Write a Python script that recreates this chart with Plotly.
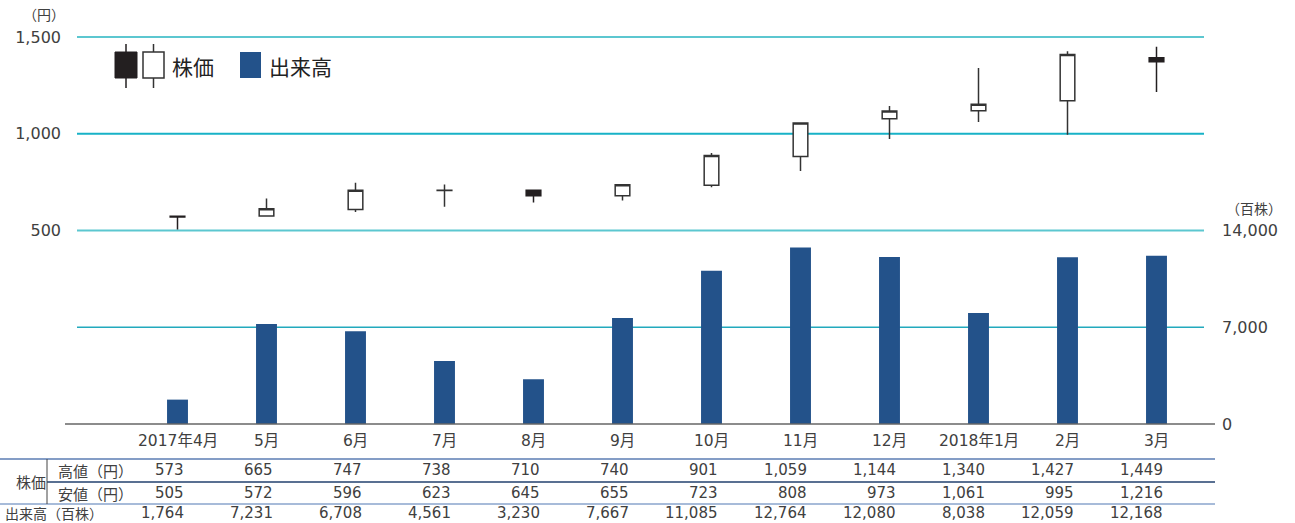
import plotly.graph_objects as go

# ---- data ----
months = ["2017年4月", "5月", "6月", "7月", "8月", "9月", "10月", "11月", "12月", "2018年1月", "2月", "3月"]
high = [573, 665, 747, 738, 710, 740, 901, 1059, 1144, 1340, 1427, 1449]
low = [505, 572, 596, 623, 645, 655, 723, 808, 973, 1061, 995, 1216]
open_ = [573, 575, 608, 707, 708, 680, 734, 883, 1077, 1119, 1170, 1393]
close = [570, 612, 708, 708, 680, 737, 887, 1055, 1117, 1153, 1409, 1372]
volume = [1764, 7231, 6708, 4561, 3230, 7667, 11085, 12764, 12080, 8038, 12059, 12168]
price_ticks = [500, 1000, 1500]
volume_ticks = [0, 7000, 14000]
price_range = [500, 1500]
volume_range = [0, 14000]

W, H = 1295, 523
L, R, T, B = 77, 91, 37, 99
PW, PH = W - L - R, H - T - B
x0px = 177.5
step = 89.0


def px(xp):
    return (xp - L) / PW


def py(yp):
    return (H - B - yp) / PH


def price_paper(v):
    return 0.5 + 0.5 * (v - price_range[0]) / (price_range[1] - price_range[0])


def vol_paper(v):
    return 0.5 * (v - volume_range[0]) / (volume_range[1] - volume_range[0])


x = list(range(len(months)))
CJK = "Noto Sans CJK JP"
NUM = "DejaVu Sans, Noto Sans CJK JP"
TXT = "#404040"
BLUE = "#23528a"

fig = go.Figure()

fig.add_trace(go.Bar(
    x=x, y=volume, yaxis="y2", width=0.235,
    marker=dict(color=BLUE, line=dict(width=0)), showlegend=False, hoverinfo="skip"))

fig.add_trace(go.Candlestick(
    x=x, open=open_, high=high, low=low, close=close, yaxis="y",
    increasing=dict(fillcolor="white", line=dict(color="#333333", width=1.5)),
    decreasing=dict(fillcolor="#231f20", line=dict(color="#231f20", width=1.5)),
    whiskerwidth=0, showlegend=False, hoverinfo="skip"))

shapes = []
# gridlines
grid_cols = {500: "#5cc7d0", 1000: "#18b2c7", 1500: "#5cc7d0"}
for v in price_ticks:
    yp = price_paper(v)
    shapes.append(dict(type="line", xref="paper", yref="paper", x0=0, x1=1, y0=yp, y1=yp,
                       line=dict(color=grid_cols[v], width=1.8), layer="below"))
for v in volume_ticks[1:2]:
    yp = vol_paper(v)
    shapes.append(dict(type="line", xref="paper", yref="paper", x0=0, x1=1, y0=yp, y1=yp,
                       line=dict(color="#22a9bd", width=1.4), layer="below"))
# baseline
shapes.append(dict(type="line", xref="paper", yref="paper", x0=px(65), x1=px(1215), y0=0, y1=0,
                   line=dict(color="#666666", width=1.5)))
# table lines
shapes.append(dict(type="line", xref="paper", yref="paper", x0=px(0), x1=px(1215), y0=py(459), y1=py(459),
                   line=dict(color="#5b7db3", width=1.5)))
shapes.append(dict(type="line", xref="paper", yref="paper", x0=px(47), x1=px(1215), y0=py(482), y1=py(482),
                   line=dict(color="#22406e", width=1.5)))
shapes.append(dict(type="line", xref="paper", yref="paper", x0=px(0), x1=px(1215), y0=py(504), y1=py(504),
                   line=dict(color="#8aa5cc", width=1.5)))
shapes.append(dict(type="line", xref="paper", yref="paper", x0=px(47), x1=px(47), y0=py(459), y1=py(504),
                   line=dict(color="#444444", width=1)))
# legend glyphs
shapes.append(dict(type="line", xref="paper", yref="paper", x0=px(126), x1=px(126), y0=py(44), y1=py(88),
                   line=dict(color="#231f20", width=1.5)))
shapes.append(dict(type="rect", xref="paper", yref="paper", x0=px(115), x1=px(137), y0=py(78), y1=py(52),
                   fillcolor="#231f20", line=dict(color="#231f20", width=1)))
shapes.append(dict(type="line", xref="paper", yref="paper", x0=px(153.5), x1=px(153.5), y0=py(44), y1=py(88),
                   line=dict(color="#333333", width=1.5)))
shapes.append(dict(type="rect", xref="paper", yref="paper", x0=px(143), x1=px(164), y0=py(78), y1=py(52),
                   fillcolor="white", line=dict(color="#333333", width=1.5)))
shapes.append(dict(type="rect", xref="paper", yref="paper", x0=px(240), x1=px(261), y0=py(78), y1=py(52),
                   fillcolor=BLUE, line=dict(width=0)))

ann = []
ann.append(dict(text="株価", xref="paper", yref="paper", x=px(170), y=py(66), xanchor="left", yanchor="middle",
                showarrow=False, font=dict(size=21, color="#222", family=CJK)))
ann.append(dict(text="出来高", xref="paper", yref="paper", x=px(267), y=py(66), xanchor="left", yanchor="middle",
                showarrow=False, font=dict(size=21, color="#222", family=CJK)))
ann.append(dict(text="（円）", xref="paper", yref="paper", x=px(67), y=py(14), xanchor="right", yanchor="middle",
                showarrow=False, font=dict(size=14, color=TXT, family=CJK)))
ann.append(dict(text="（百株）", xref="paper", yref="paper", x=px(1224), y=py(208), xanchor="left", yanchor="middle",
                showarrow=False, font=dict(size=14, color=TXT, family=CJK)))

row_y = {"m": py(441), "h": py(470), "l": py(493), "v": py(513)}
for i, m in enumerate(months):
    ann.append(dict(text=m, xref="x", yref="paper", x=i, y=row_y["m"], xanchor="center", yanchor="middle",
                    showarrow=False, font=dict(size=15.5, color=TXT, family=NUM)))
    for key, arr in (("h", high), ("l", low), ("v", volume)):
        ann.append(dict(text=f"{arr[i]:,}", xref="x", yref="paper", x=i + 0.1, y=row_y[key],
                        xanchor="right", yanchor="middle", showarrow=False,
                        font=dict(size=15, color=TXT, family=NUM)))

ann.append(dict(text="株価", xref="paper", yref="paper", x=px(31), y=py(481), xanchor="center", yanchor="middle",
                showarrow=False, font=dict(size=15, color=TXT, family=CJK)))
ann.append(dict(text="高値（円）", xref="paper", yref="paper", x=px(56), y=row_y["h"], xanchor="left", yanchor="middle",
                showarrow=False, font=dict(size=15, color=TXT, family=CJK)))
ann.append(dict(text="安値（円）", xref="paper", yref="paper", x=px(56), y=row_y["l"], xanchor="left", yanchor="middle",
                showarrow=False, font=dict(size=15, color=TXT, family=CJK)))
ann.append(dict(text="出来高（百株）", xref="paper", yref="paper", x=px(3), y=py(512.5), xanchor="left", yanchor="middle",
                showarrow=False, font=dict(size=14, color=TXT, family=CJK)))

fig.update_layout(
    width=W, height=H,
    margin=dict(l=L, r=R, t=T, b=B, pad=0),
    paper_bgcolor="white", plot_bgcolor="white",
    boxgap=0.765,
    showlegend=False,
    font=dict(family=NUM, color=TXT, size=16),
    xaxis=dict(range=[(L - x0px) / step, (L + PW - x0px) / step], showgrid=False, zeroline=False,
               showticklabels=False, ticks="", showline=False, rangeslider=dict(visible=False),
               fixedrange=True),
    yaxis=dict(domain=[0.5, 1], range=price_range, tickvals=price_ticks, tickformat=",d",
               showgrid=False, zeroline=False, showline=False, ticks="", side="left",
               ticklabelstandoff=15, tickfont=dict(size=16, color=TXT, family=NUM)),
    yaxis2=dict(domain=[0, 0.5], range=volume_range, tickvals=volume_ticks, tickformat=",d",
                showgrid=False, zeroline=False, showline=False, ticks="", side="right", anchor="x",
                ticklabelstandoff=17, tickfont=dict(size=16, color=TXT, family=NUM)),
    shapes=shapes, annotations=ann,
)

fig.write_html("out.html")
